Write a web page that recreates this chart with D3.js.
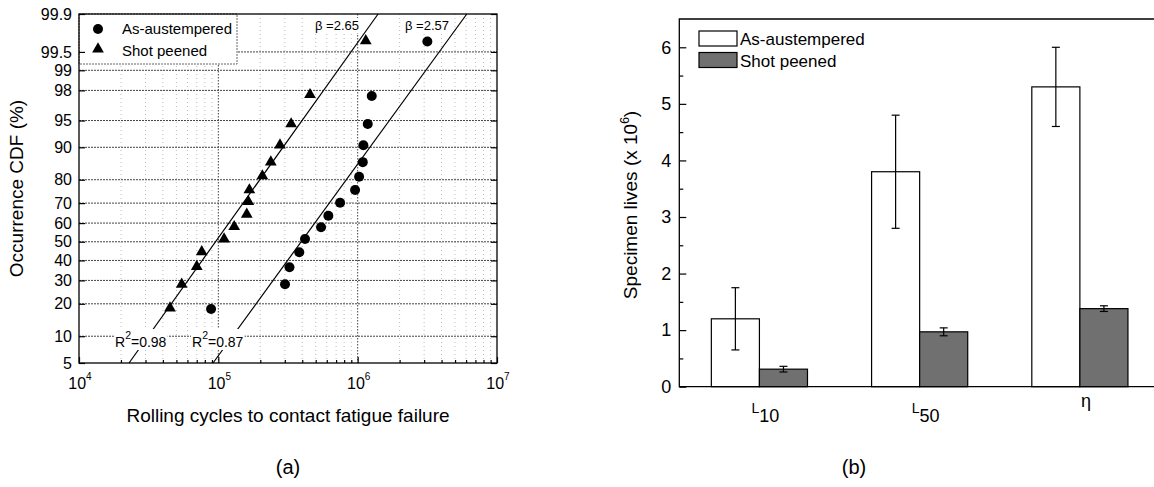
<!DOCTYPE html>
<html><head><meta charset="utf-8">
<script src="https://cdn.jsdelivr.net/npm/d3@7"></script>
<style>
html,body{margin:0;padding:0;background:#fff;overflow:hidden}
svg{display:block;font-family:"Liberation Sans",Arial,Helvetica,sans-serif}
</style>
</head><body>
<svg id="c" width="1154" height="487" viewBox="0 0 1154 487"></svg>
<script>
// ---------- data: panel (a) ----------
const cdfTicks = [5, 10, 20, 30, 40, 50, 60, 70, 80, 90, 95, 98, 99, 99.5, 99.9];
const cycleTicks = [1e4, 1e5, 1e6, 1e7];
const cycleTickExp = ["4", "5", "6", "7"];
const asCycles = [88700, 301000, 324000, 381000, 419000, 546000, 616000, 748000, 958000, 1024000, 1088000, 1099000, 1181000, 1262000, 3164000];
const asCDF    = [18.1, 28.2, 36.5, 44.3, 51.5, 57.8, 63.8, 70.2, 75.9, 81.1, 86.0, 90.5, 94.5, 97.6, 99.67];
const spCycles = [45000, 54600, 70000, 76000, 110000, 130000, 160000, 164000, 167000, 207000, 238000, 277000, 333000, 455000, 1143000];
const spCDF    = [18.4, 28.2, 36.8, 44.6, 51.5, 58.1, 64.5, 70.7, 75.9, 81.4, 86.0, 90.5, 94.5, 97.7, 99.68];
const fitCDF = [5, 99.9];
const spFitCycles = [22860, 1401000];
const asFitCycles = [91600, 6070000];
const seriesNamesA = ["As-austempered", "Shot peened"];

// ---------- data: panel (b) ----------
const categories = ["L10", "L50", "η"];
const seriesNames = ["As-austempered", "Shot peened"];
const asLives = [1.2, 3.8, 5.3];
const asLivesErr = [0.55, 1.0, 0.7];
const spLives = [0.31, 0.97, 1.38];
const spLivesErr = [0.05, 0.07, 0.05];
const lifeTicks = [0, 1, 2, 3, 4, 5, 6];
const lifeMinorTicks = [0.5, 1.5, 2.5, 3.5, 4.5, 5.5];

// inverse normal CDF (probability paper transform)
function probit(p){
  const a=[-3.969683028665376e+01,2.209460984245205e+02,-2.759285104469687e+02,1.383577518672690e+02,-3.066479806614716e+01,2.506628277459239e+00];
  const b=[-5.447609879822406e+01,1.615858368580409e+02,-1.556989798598866e+02,6.680131188771972e+01,-1.328068155288572e+01];
  const c=[-7.784894002430293e-03,-3.223964580411365e-01,-2.400758277161838e+00,-2.549732539343734e+00,4.374664141464968e+00,2.938163982698783e+00];
  const d=[7.784695709041462e-03,3.224671290700398e-01,2.445134137142996e+00,3.754408661907416e+00];
  const pl=0.02425, ph=1-pl; let q,r;
  if(p<pl){q=Math.sqrt(-2*Math.log(p));return (((((c[0]*q+c[1])*q+c[2])*q+c[3])*q+c[4])*q+c[5])/((((d[0]*q+d[1])*q+d[2])*q+d[3])*q+1);}
  if(p<=ph){q=p-0.5;r=q*q;return (((((a[0]*r+a[1])*r+a[2])*r+a[3])*r+a[4])*r+a[5])*q/(((((b[0]*r+b[1])*r+b[2])*r+b[3])*r+b[4])*r+1);}
  q=Math.sqrt(-2*Math.log(1-p));return -(((((c[0]*q+c[1])*q+c[2])*q+c[3])*q+c[4])*q+c[5])/((((d[0]*q+d[1])*q+d[2])*q+d[3])*q+1);
}

const svg = d3.select("#c");

// ================= PANEL (a) =================
const A = {l:79, r:497, t:14, b:363};
const xA = d3.scaleLog().domain([cycleTicks[0], cycleTicks[cycleTicks.length-1]]).range([A.l, A.r]);
const yP = d3.scaleLinear().domain([probit(cdfTicks[0]/100), probit(cdfTicks[cdfTicks.length-1]/100)]).range([A.b, A.t]);
const yA = v => yP(probit(v/100));
const gA = svg.append("g");

const minorX = xA.ticks().filter(v => !cycleTicks.includes(v));
gA.append("g").selectAll("line").data(minorX).join("line")
  .attr("x1", d=>xA(d)).attr("x2", d=>xA(d)).attr("y1", A.t).attr("y2", A.b)
  .attr("stroke", "#bdbdbd").attr("stroke-width", 1).attr("stroke-dasharray", "1,3");
gA.append("g").selectAll("line").data(cycleTicks.slice(1, -1)).join("line")
  .attr("x1", d=>xA(d)).attr("x2", d=>xA(d)).attr("y1", A.t).attr("y2", A.b)
  .attr("stroke", "#444").attr("stroke-width", 1).attr("stroke-dasharray", "1.5,1.5");
gA.append("g").selectAll("line").data(cdfTicks.slice(1, -1)).join("line")
  .attr("x1", A.l).attr("x2", A.r).attr("y1", d=>yA(d)).attr("y2", d=>yA(d))
  .attr("stroke", "#444").attr("stroke-width", 1).attr("stroke-dasharray", "2,1");

// legend box (covers grid)
const legA = gA.append("g");
legA.append("rect").attr("x", A.l).attr("y", A.t).attr("width", 158).attr("height", 50)
  .attr("fill", "#fff").attr("stroke", "#666").attr("stroke-dasharray", "2,1");
legA.append("circle").attr("cx", A.l+19).attr("cy", A.t+15).attr("r", 5).attr("fill", "#000");
legA.append("path").attr("d", d3.symbol(d3.symbolTriangle, 60)).attr("transform", `translate(${A.l+19},${A.t+35})`).attr("fill", "#000");
legA.selectAll("text").data(seriesNamesA).join("text")
  .attr("x", A.l+43).attr("y", (d,i)=>A.t+20+i*21.5).attr("font-size", 15).text(d=>d);

// fit lines
const fitLine = d3.line().x(d=>xA(d[0])).y(d=>yA(d[1]));
gA.append("path").datum(spFitCycles.map((c,i)=>[c, fitCDF[i]])).attr("d", fitLine)
  .attr("fill", "none").attr("stroke", "#000").attr("stroke-width", 1.2);
gA.append("path").datum(asFitCycles.map((c,i)=>[c, fitCDF[i]])).attr("d", fitLine)
  .attr("fill", "none").attr("stroke", "#000").attr("stroke-width", 1.2);

// annotations with white background
function label(g, x, y, parts, size){
  const t = g.append("text").attr("x", x).attr("y", y).attr("font-size", size);
  parts.forEach(p => {
    const s = t.append("tspan").text(p.t);
    if (p.sup) s.attr("font-size", size*0.75).attr("dy", -8);
    if (p.back) s.attr("dy", 8);
  });
  const bb = t.node().getBBox();
  g.insert("rect", "text").attr("x", bb.x-1).attr("y", bb.y).attr("width", bb.width+2).attr("height", bb.height)
    .attr("fill", "#fff");
  return t;
}
const annA = gA.append("g");
label(annA, 115, 347, [{t:"R"},{t:"2",sup:true},{t:"=0.98",back:true}], 14);
label(annA, 192, 347, [{t:"R"},{t:"2",sup:true},{t:"=0.87",back:true}], 14);
label(annA, 315, 30, [{t:"β =2.65"}], 13);
label(annA, 405, 30, [{t:"β =2.57"}], 13);

// points
gA.append("g").selectAll("circle").data(asCycles.map((c,i)=>[c, asCDF[i]])).join("circle")
  .attr("cx", d=>xA(d[0])).attr("cy", d=>yA(d[1])).attr("r", 5).attr("fill", "#000");
gA.append("g").selectAll("path").data(spCycles.map((c,i)=>[c, spCDF[i]])).join("path")
  .attr("d", d3.symbol(d3.symbolTriangle, 60))
  .attr("transform", d=>`translate(${xA(d[0])},${yA(d[1])})`).attr("fill", "#000");

// axes
const yTickVals = cdfTicks.map(v=>probit(v/100));
const axL = gA.append("g").attr("transform", `translate(${A.l},0)`)
  .call(d3.axisLeft(yP).tickValues(yTickVals).tickFormat((d,i)=>cdfTicks[i]).tickSize(-6).tickPadding(7));
const axR = gA.append("g").attr("transform", `translate(${A.r},0)`)
  .call(d3.axisRight(yP).tickValues(yTickVals).tickFormat("").tickSize(-6));
const axB = gA.append("g").attr("transform", `translate(0,${A.b})`)
  .call(d3.axisBottom(xA).tickValues(cycleTicks).tickFormat("").tickSize(-6));
const axBm = gA.append("g").attr("transform", `translate(0,${A.b})`)
  .call(d3.axisBottom(xA).tickValues(minorX).tickFormat("").tickSize(-3));
[axL, axR, axB, axBm].forEach(a => { a.select(".domain").remove(); a.selectAll("line").attr("stroke", "#000").attr("stroke-width", 1.2); });
axL.selectAll("text").attr("font-size", 16).attr("font-family", null).attr("fill", "#000");
const xl = gA.append("g").selectAll("text").data(cycleTicks).join("text")
  .attr("x", d=>xA(d)+1).attr("y", A.b+25.5).attr("text-anchor", "middle").attr("font-size", 16);
xl.append("tspan").text("10");
xl.append("tspan").text((d,i)=>cycleTickExp[i]).attr("font-size", 10).attr("dy", -9);

// frame
gA.append("rect").attr("x", A.l).attr("y", A.t).attr("width", A.r-A.l).attr("height", A.b-A.t)
  .attr("fill", "none").attr("stroke", "#000").attr("stroke-width", 1.3);

// titles
gA.append("text").attr("x", (A.l+A.r)/2).attr("y", 421.5).attr("text-anchor", "middle").attr("font-size", 19)
  .text("Rolling cycles to contact fatigue failure");
gA.append("text").attr("transform", `translate(23,${(A.t+A.b)/2}) rotate(-90)`).attr("text-anchor", "middle").attr("font-size", 19)
  .text("Occurrence CDF (%)");
gA.append("text").attr("x", 288).attr("y", 474).attr("text-anchor", "middle").attr("font-size", 20).text("(a)");

// ================= PANEL (b) =================
const B = {l:679.3, r:1160, t:19, b:386.7};
const x0 = d3.scaleBand().domain(categories).range([B.l, B.r]).paddingInner(0.4).paddingOuter(0.2);
const x1 = d3.scaleBand().domain(seriesNames).range([0, x0.bandwidth()]);
const yB = d3.scaleLinear().domain([0, 6.5]).range([B.b, B.t]);
const gB = svg.append("g");
const fills = {"As-austempered":"#fff", "Shot peened":"#707070"};

const barData = [];
categories.forEach((c,i) => {
  barData.push({cat:c, s:seriesNames[0], v:asLives[i], e:asLivesErr[i]});
  barData.push({cat:c, s:seriesNames[1], v:spLives[i], e:spLivesErr[i]});
});
gB.append("g").selectAll("rect").data(barData).join("rect")
  .attr("x", d=>x0(d.cat)+x1(d.s)).attr("width", x1.bandwidth())
  .attr("y", d=>yB(d.v)).attr("height", d=>yB(0)-yB(d.v))
  .attr("fill", d=>fills[d.s]).attr("stroke", "#000").attr("stroke-width", 1.2);
const eb = gB.append("g").selectAll("g").data(barData).join("g")
  .attr("transform", d=>`translate(${x0(d.cat)+x1(d.s)+x1.bandwidth()/2},0)`);
eb.append("line").attr("y1", d=>yB(d.v-d.e)).attr("y2", d=>yB(d.v+d.e)).attr("stroke", "#000").attr("stroke-width", 1.2);
eb.append("line").attr("x1", -4).attr("x2", 4).attr("y1", d=>yB(d.v+d.e)).attr("y2", d=>yB(d.v+d.e)).attr("stroke", "#000").attr("stroke-width", 1.2);
eb.append("line").attr("x1", -4).attr("x2", 4).attr("y1", d=>yB(d.v-d.e)).attr("y2", d=>yB(d.v-d.e)).attr("stroke", "#000").attr("stroke-width", 1.2);

// left axis (ticks inward)
const bL = gB.append("g").attr("transform", `translate(${B.l},0)`)
  .call(d3.axisLeft(yB).tickValues(lifeTicks).tickFormat(d3.format("d")).tickSize(-7).tickPadding(8));
const bLm = gB.append("g").attr("transform", `translate(${B.l},0)`)
  .call(d3.axisLeft(yB).tickValues(lifeMinorTicks).tickFormat("").tickSize(-4));
[bL, bLm].forEach(a => { a.select(".domain").remove(); a.selectAll("line").attr("stroke", "#000").attr("stroke-width", 1.2); });
bL.selectAll("text").attr("font-size", 18).attr("font-family", null).attr("fill", "#000");
gB.append("path")
  .attr("d", `M${B.r},${B.t}H${B.l}V${B.b}H${B.r}`)
  .attr("fill", "none").attr("stroke", "#000").attr("stroke-width", 1.3);

// category labels
const cl = gB.append("g").selectAll("text").data(categories).join("text")
  .attr("x", d=>x0(d)+x0.bandwidth()/2+6).attr("y", d=>d.length>1?413:407).attr("text-anchor", "middle").attr("font-size", 18);
cl.each(function(d){
  const t = d3.select(this);
  if (d.length > 1) {
    t.append("tspan").text(d[0]).attr("font-size", 14);
    t.append("tspan").text(d.slice(1)).attr("dy", 8.5);
  } else t.text(d);
});

// legend
const legB = gB.append("g");
seriesNames.forEach((s,i) => {
  legB.append("rect").attr("x", 699).attr("y", 31+i*21.5).attr("width", 38).attr("height", 15)
    .attr("fill", fills[s]).attr("stroke", "#000").attr("stroke-width", 1.2);
  legB.append("text").attr("x", 740).attr("y", 45+i*21.5).attr("font-size", 17).text(s);
});

// titles
const yt = gB.append("text").attr("transform", `translate(637,205) rotate(-90)`).attr("text-anchor", "middle").attr("font-size", 19);
yt.append("tspan").text("Specimen lives (x 10");
yt.append("tspan").text("6").attr("font-size", 12).attr("dy", -8);
yt.append("tspan").text(")").attr("dy", 8);
gB.append("text").attr("x", 854).attr("y", 474).attr("text-anchor", "middle").attr("font-size", 20).text("(b)");
</script>
</body></html>
